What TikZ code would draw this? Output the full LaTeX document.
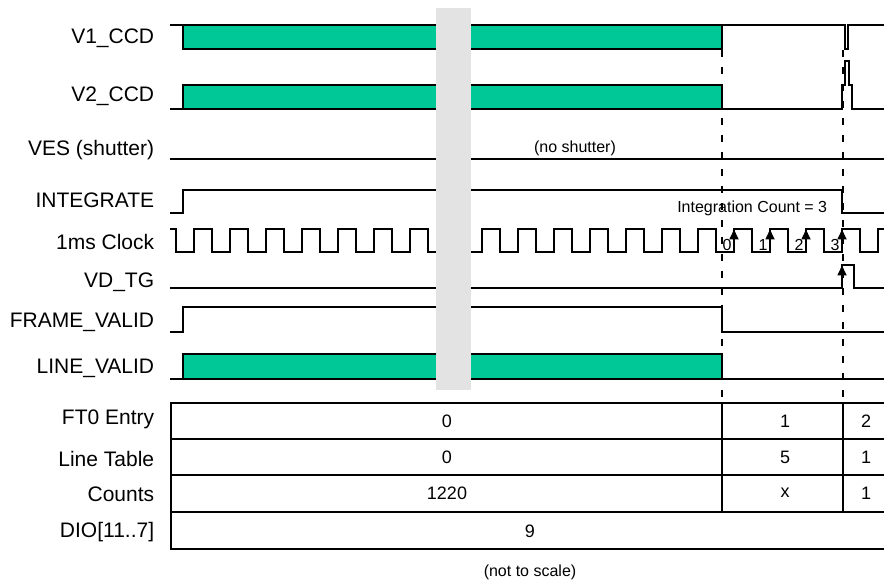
\documentclass[tikz,border=0pt]{standalone}
\usepackage{fontspec}
\setmainfont{Liberation Sans}
\usetikzlibrary{arrows.meta}
\definecolor{busgreen}{RGB}{0,201,151}
\definecolor{breakgray}{RGB}{227,227,227}

\begin{document}
\begin{tikzpicture}
			[x=1pt,y=-1pt,line width=1.7pt,line join=miter,
			every node/.style={font=\fontsize{18}{20}\selectfont,inner sep=0pt},
			lbl/.style={anchor=east,font=\fontsize{21}{23}\selectfont},
			small/.style={font=\fontsize{16}{18}\selectfont},
			bus/.style={draw,fill=busgreen},
			marker/.style={dash pattern=on 7pt off 10pt},
			edge/.style={-{Triangle[length=10pt,width=9pt]}}]
			\useasboundingbox (0,0) rectangle (884,585);
			
			% signal names
			\node[lbl] (v1) at (155,38)  {V1\_CCD};
			\node[lbl] (v2) at (155,96)  {V2\_CCD};
			\node[lbl] (ves) at (155,150)  {VES (shutter)};
			\node[lbl] (integ) at (155,200)  {INTEGRATE};
			\node[lbl] (clk) at (155,242)  {1ms Clock};
			\node[lbl] (vd) at (155,282)  {VD\_TG};
			\node[lbl] (fv) at (155,322)  {FRAME\_VALID};
			\node[lbl] (lv) at (155,368)  {LINE\_VALID};
			\node[lbl] (ft0) at (155,419)  {FT0 Entry};
			\node[lbl] (ltab) at (155,459)  {Line Table};
			\node[lbl] (cnt) at (155,494)  {Counts};
			\node[lbl] (dio) at (155,532)  {DIO[11..7]};
			
			% waveforms
			\draw (170,25) -- (845,25) -- (845,49) -- (848,49) -- (848,25) -- (884,25);
			\draw[bus] (183,25) rectangle (722,49);
			\draw (170,109) -- (842,109) -- (842,85) -- (845,85) -- (845,61) -- (849,61) -- (849,85) -- (852,85) -- (852,109) -- (884,109);
			\draw[bus] (183,85) rectangle (722,109);
			\draw (170,159) -- (884,159);
			\node[small] (noshut) at (575,148) {(no shutter)};
			\draw (170,213) -- (183,213) -- (183,190) -- (842,190) -- (842,213) -- (884,213);
			\node[small,anchor=east] (icount) at (828,208) {Integration Count = 3};
			\draw (170,229) -- (176,229) -- (176,252)
			foreach \k in {0,...,18} {-- ({194+36*\k},252) -- ({194+36*\k},229) -- ({212+36*\k},229) -- ({212+36*\k},252)}
			-- (878,252) -- (878,229) -- (884,229);
			\draw (170,288) -- (842,288) -- (842,265) -- (854,265) -- (854,288) -- (884,288);
			\draw (170,332) -- (183,332) -- (183,307) -- (722,307) -- (722,332) -- (884,332);
			\draw (170,379) -- (884,379);
			\draw[bus] (183,354) rectangle (722,379);
			
			% count marks on the clock
			\foreach \x/\n in {734/0,770/1,806/2,842/3}
			{
			\draw[edge] (\x,252) -- (\x,229.5);
			\node[small] (c\n) at (\x-7,245) {\n};
			}
			\draw[edge] (842,288) -- (842,265.5);
			
			% break in time
			\fill[breakgray] (436,8) rectangle (471,390);
			
			% frame boundaries
			\coordinate (ma) at (722,50);
			\coordinate (mb) at (843,50);
			\coordinate (mc) at (722,403);
			\coordinate (md) at (843,403);
			\draw[marker] (ma) -- (mc);
			\draw[marker] (mb) -- (md);
			
			% table
			\foreach \t/\b in {403/439,439/475,475/512,512/549}
			\draw (884,\t) -- (171,\t) -- (171,\b) -- (884,\b);
			\draw (722,403) -- (722,512);
			\draw (843,403) -- (843,512);
			\node (fa) at (447,421) {0};
			\node (fb) at (785,421) {1};
			\node (fc) at (866,421) {2};
			\node (la) at (447,457) {0};
			\node (lb) at (785,457) {5};
			\node (lc) at (866,457) {1};
			\node (ca) at (447,493) {1220};
			\node (cb) at (785,493) {x};
			\node (cc) at (866,493) {1};
			\node (da) at (530,531) {9};
			\node[small] (nts) at (530,572) {(not to scale)};
\end{tikzpicture}
\end{document}
